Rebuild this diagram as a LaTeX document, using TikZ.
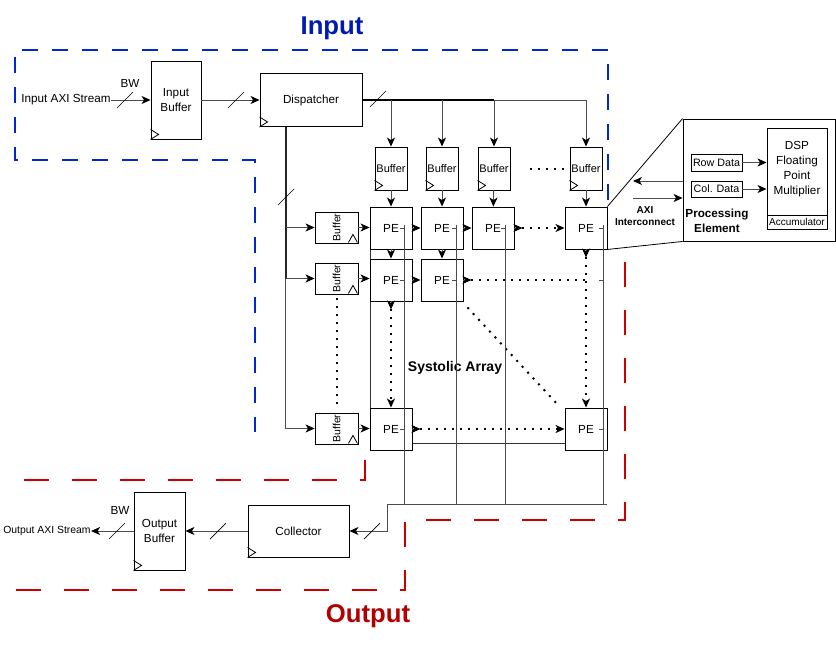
\documentclass[tikz,border=0pt]{standalone}
\usepackage{fontspec}
\setmainfont{Liberation Sans}
\usepackage{graphicx}
\usetikzlibrary{arrows.meta,calc}
\definecolor{inblue}{RGB}{0,40,204}
\definecolor{intitle}{RGB}{0,26,178}
\definecolor{outred}{RGB}{204,0,0}
\definecolor{outtitle}{RGB}{178,0,0}
\tikzset{
  blk/.style={draw, fill=white, inner sep=0pt, align=center, font=\fontsize{11.7}{15.5}\selectfont},
  colbuf/.style={blk, minimum width=32pt, minimum height=43pt, font=\fontsize{11}{13}\selectfont},
  rowbuf/.style={blk, minimum width=43pt, minimum height=31pt, font=\fontsize{10.5}{12}\selectfont},
  pe/.style={blk, minimum width=42pt, minimum height=42pt},
  txt/.style={inner sep=0pt, align=center, font=\fontsize{11.7}{14}\selectfont},
  title/.style={inner sep=0pt, font=\fontsize{25.7}{30}\selectfont\bfseries},
  link/.style={draw=black!70, ->},
  dotline/.style={draw=black, dash pattern=on 2pt off 6pt, line width=2pt},
  colline/.style={draw=black!70},
  dashin/.style={draw=inblue, line width=2.2pt, dash pattern=on 16pt off 14pt},
  dashout/.style={draw=outred, line width=2.2pt, dash pattern=on 25pt off 23pt},
  clk/.pic={\draw[line width=0.8pt] (0,0) -- (8,-5) -- (0,-10);},
  rclk/.pic={\draw[line width=0.8pt] (-1,-1) -- (-5.5,-9) -- (-10,-1);},
  busw/.pic={\draw[line width=0.7pt] (-8,8) -- (8,-8);},
}
\begin{document}
\begin{tikzpicture}[x=1pt,y=-1pt,line width=0.9pt,>={Stealth[length=9pt,width=8pt,inset=2.5pt,color=black]}]
\useasboundingbox (0,0) rectangle (836,661);
\path[dashin] (608,200) -- (608,50) -- (15,50) -- (15,160) -- (255,160) -- (255,432);
\path[dashout] (365,460) -- (365,480) -- (5,480);
\path[dashout] (625,262) -- (625,520) -- (405,520) -- (405,590) -- (5,590);
\node[title,text=intitle] (tin) at (332,28) {Input};
\node[title,text=outtitle] (tout) at (368,616) {Output};

\node[txt] (inaxi) at (66,100) {Input AXI Stream};
\node[blk,minimum width=50pt,minimum height=78pt] (inbuf) at (176,100) {Input\\Buffer};
\node[blk,minimum width=102pt,minimum height=53pt] (disp) at (311,100) {Dispatcher};
\node[txt] (bwin) at (130,83) {BW};
\path[draw,link] (inaxi) -- (inbuf);
\path[draw,link] (inbuf) -- (disp);
\pic at (125,100) {busw};
\pic at (236,100) {busw};
\pic at (inbuf.south west) {clk};
\pic at (disp.south west) {clk};

\node[colbuf] (cbuf1) at (391,168.5) {Buffer};
\node[colbuf] (cbuf2) at (442,168.5) {Buffer};
\node[colbuf] (cbuf3) at (494,168.5) {Buffer};
\node[colbuf] (cbuf4) at (586,168.5) {Buffer};
\foreach \i in {1,...,4} \pic at (cbuf\i.south west) {clk};
\path[draw,line width=1.8pt] (disp.east) -- (disp.east -| cbuf3);
\path[draw,link] (disp.east -| cbuf3) -| (cbuf4.north);
\foreach \i in {1,2,3} \path[draw,link] (disp.east -| cbuf\i) -- (cbuf\i.north);
\pic at (378,99) {busw};
\path[dotline] ([xshift=20pt]cbuf3.east) -- ([xshift=-5pt]cbuf4.west);

\node[rowbuf] (rbuf1) at (336.5,227.5) {\rotatebox{90}{Buffer}};
\node[rowbuf] (rbuf2) at (336.5,278.5) {\rotatebox{90}{Buffer}};
\node[rowbuf] (rbuf3) at (336.5,428.5) {\rotatebox{90}{Buffer}};
\foreach \i in {1,2,3} \pic at (rbuf\i.south east) {rclk};
\coordinate (dv) at ([xshift=26pt]disp.south west);
\path[draw=black!85,line width=2pt] (dv) -- (dv |- rbuf2.west);
\path[draw,link] (dv |- rbuf2.west) |- (rbuf3.west);
\path[draw,link] (dv |- rbuf1.west) -- (rbuf1.west);
\path[draw,link] (dv |- rbuf2.west) -- (rbuf2.west);
\pic at (286,197) {busw};
\path[dotline] ([yshift=-4pt]rbuf2.south) -- ([yshift=8pt]rbuf3.north);

\path[draw=black!80] (370,207) -- (370,450);
\path[draw=black!80] (412,443) -- (565,443);
\node[pe] (pe11) at (391,228) {PE};
\node[pe] (pe12) at (442,228) {PE};
\node[pe] (pe13) at (493,228) {PE};
\node[pe] (pe14) at (586,228) {PE};
\node[pe] (pe21) at (391,280) {PE};
\node[pe] (pe22) at (442,280) {PE};
\node[pe] (pe31) at (391,429) {PE};
\node[pe] (pe34) at (586,429) {PE};
\node[txt,font=\fontsize{14}{16}\selectfont\bfseries] (sysa) at (455,368) {Systolic Array};

\foreach \i in {1,...,4} \path[draw,link] (cbuf\i) -- (pe1\i);
\foreach \i in {1,2,3} \path[draw,link] (rbuf\i.east) -- (rbuf\i.east -| pe\i1.west);
\path[draw,link] (pe11) -- (pe12);
\path[draw,link] (pe12) -- (pe13);
\path[draw,link] (pe21) -- (pe22);
\path[draw,link] (pe11) -- (pe21);
\path[draw,link] (pe12) -- (pe22);
\path[draw,link] (pe13.east) -- ++(8,0) coordinate (r1);
\path[dotline,->] (r1) -- (pe14.west);
\path[draw,link] (pe22.east) -- ++(8,0) coordinate (r2);
\path[dotline] (r2) -- (pe22.east -| pe14.center);
\path[draw,link] (pe31.east) -- ++(8,0) coordinate (r3);
\path[dotline,->] (r3) -- (pe34.west);
\path[draw,link] (pe21.south) -- ++(0,8) coordinate (c1);
\path[dotline,->] (c1) -- (pe31.north);
\path[draw,link] (pe14.south) -- ++(0,8) coordinate (c4);
\path[dotline,->] (c4) -- (pe34.north);
\path[dotline] ([shift={(4,6)}]pe22.south east) -- ([shift={(-5,-1)}]pe34.north west);

\coordinate (busl) at (387,504);
\coordinate (busr) at (607,504);
\foreach \i/\d in {1/8,2/7,3/9,4/4}
  \path[colline] ([xshift=-\d pt,yshift=-18pt]pe1\i.north east) -- ([xshift=-\d pt]pe1\i.north east |- busl);
\foreach \p/\d in {pe11/8,pe12/7,pe13/9,pe14/4,pe21/8,pe22/7,pe31/8,pe34/4}
  \path[colline] ([xshift=-\d pt]\p.east) -- ++(-4,0);
\path[colline] ([xshift=-4pt]pe14.east |- pe22.east) -- ++(-4,0);
\path[colline] (busl) -- (busr);

\node[blk,minimum width=101pt,minimum height=52pt] (coll) at (298.5,531) {Collector};
\node[blk,minimum width=51pt,minimum height=78pt] (outbuf) at (159.5,531) {Output\\Buffer};
\node[txt,font=\fontsize{10.4}{12}\selectfont] (outaxi) at (47,531) {Output AXI Stream};
\node[txt] (bwout) at (120,510) {BW};
\path[draw,link] (busl) |- (coll.east);
\path[draw,link] (coll) -- (outbuf);
\path[draw,link] (outbuf) -- (outaxi);
\pic at (372,531) {busw};
\pic at (218,531) {busw};
\pic at (117,531) {busw};
\pic at (coll.south west) {clk};
\pic at (outbuf.south west) {clk};

\node[blk,minimum width=152pt,minimum height=122pt] (peview) at (759,180) {};
\path[draw,line width=0.8pt] (pe14.north east) -- (peview.north west);
\path[draw,line width=0.8pt] (pe14.south east) -- (peview.south west);
\node[blk,minimum width=51pt,minimum height=17pt,font=\fontsize{10.7}{12}\selectfont] (rowd) at (716.5,162.5) {Row Data};
\node[blk,minimum width=51pt,minimum height=16pt,font=\fontsize{10.7}{12}\selectfont] (cold) at (716.5,189) {Col. Data};
\node[blk,minimum width=60pt,minimum height=101pt,font=\fontsize{11.7}{15}\selectfont] (dspm) at (797,178.5) {DSP\\Floating\\Point\\Multiplier\\[6pt]};
\node[blk,minimum width=60pt,minimum height=14pt,font=\fontsize{10}{12}\selectfont] (acc) at (797,222) {Accumulator};
\path[draw,link] (rowd.east) -- (rowd.east -| dspm.west);
\path[draw,link] (cold.east) -- (cold.east -| dspm.west);
\coordinate (axiw) at (633,181);
\coordinate (axie) at (633,198);
\path[draw,link] (axiw -| peview.west) -- (axiw);
\path[draw,link] (axie) -- (axie -| peview.west);
\node[txt,font=\fontsize{10}{12}\selectfont\bfseries] (axi) at (645,216) {AXI\\Interconnect};
\node[txt,font=\fontsize{11.7}{15}\selectfont\bfseries] (pelbl) at (717,221) {Processing\\Element};
\end{tikzpicture}
\end{document}
